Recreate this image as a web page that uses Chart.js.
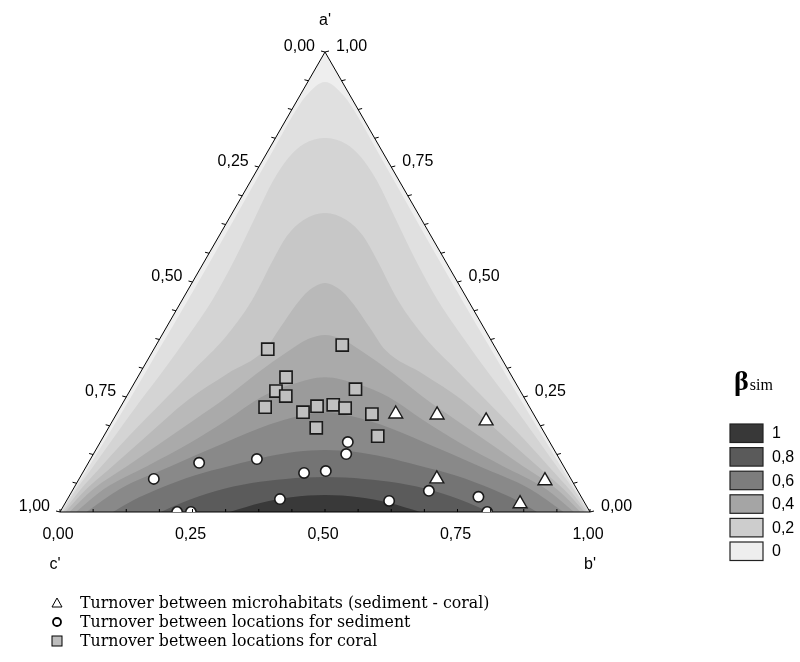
<!DOCTYPE html>
<html>
<head>
<meta charset="utf-8">
<script src="https://cdn.jsdelivr.net/npm/chart.js@4.4.1/dist/chart.umd.min.js"></script>
<style>
html,body{margin:0;padding:0;background:#ffffff;}
#wrap{position:relative;width:800px;height:662px;}
</style>
</head>
<body>
<div id="wrap"><canvas id="c" width="800" height="662"></canvas></div>
<script>
// ---------------- data (ternary coordinates: a' = top, b' = bottom-right, c' = 1 - a' - b') ----------------
const seriesNames = [
  'Turnover between microhabitats (sediment - coral)',
  'Turnover between locations for sediment',
  'Turnover between locations for coral'
];
// microhabitats (triangles)
const microA = [0.213, 0.211, 0.198, 0.072, 0.068, 0.018];
const microB = [0.527, 0.606, 0.705, 0.675, 0.881, 0.859];
// sediment locations (circles)
const sedA = [0.072, 0.107, 0.115, 0.085, 0.089, 0.028, 0.000, 0.000, 0.152, 0.126, 0.024, 0.046, 0.033, 0.000];
const sedB = [0.141, 0.209, 0.314, 0.418, 0.457, 0.401, 0.221, 0.247, 0.467, 0.477, 0.609, 0.673, 0.773, 0.806];
// coral locations (squares)
const coralA = [0.354, 0.363, 0.293, 0.263, 0.252, 0.267, 0.228, 0.217, 0.230, 0.233, 0.226, 0.213, 0.183, 0.165];
const coralB = [0.215, 0.351, 0.280, 0.276, 0.300, 0.424, 0.273, 0.350, 0.370, 0.399, 0.425, 0.482, 0.392, 0.517];

// beta_sim contour lines (levels 0, 0.1 ... 0.9), each as [b', a'] pairs
const contourLevels = [0, 0.1, 0.2, 0.3, 0.4, 0.5, 0.6, 0.7, 0.8, 0.9];
const contour1 = [[0.001,0],[0.003,0.048],[0.005,0.091],[0.007,0.157],[0.009,0.244],[0.010,0.352],[0.011,0.461],[0.011,0.570],[0.010,0.678],[0.009,0.787],[0.008,0.860],[0.012,0.905],[0.0325,0.935],[0.083,0.905],[0.132,0.860],[0.204,0.787],[0.312,0.678],[0.419,0.570],[0.528,0.461],[0.638,0.352],[0.747,0.244],[0.836,0.157],[0.904,0.091],[0.949,0.048],[0.999,0]];
const contour2 = [[0.003,0],[0.006,0.048],[0.012,0.091],[0.020,0.157],[0.031,0.244],[0.040,0.300],[0.050,0.380],[0.057,0.460],[0.055,0.550],[0.048,0.640],[0.042,0.720],[0.046,0.770],[0.060,0.800],[0.0935,0.813],[0.140,0.800],[0.184,0.770],[0.238,0.720],[0.312,0.640],[0.395,0.550],[0.483,0.460],[0.570,0.380],[0.660,0.300],[0.725,0.244],[0.823,0.157],[0.897,0.091],[0.946,0.048],[0.997,0]];
const contour3 = [[0.006,0],[0.014,0.048],[0.026,0.091],[0.045,0.157],[0.075,0.244],[0.098,0.310],[0.122,0.380],[0.132,0.460],[0.128,0.550],[0.128,0.600],[0.142,0.635],[0.175,0.650],[0.223,0.635],[0.272,0.600],[0.322,0.550],[0.408,0.460],[0.498,0.380],[0.592,0.310],[0.681,0.244],[0.798,0.157],[0.883,0.091],[0.938,0.048],[0.994,0]];
const contour4 = [[0.010,0],[0.024,0.048],[0.045,0.091],[0.077,0.157],[0.120,0.244],[0.165,0.300],[0.210,0.352],[0.215,0.400],[0.220,0.450],[0.228,0.480],[0.251,0.498],[0.292,0.480],[0.330,0.450],[0.385,0.400],[0.438,0.352],[0.535,0.300],[0.636,0.244],[0.766,0.157],[0.864,0.091],[0.928,0.048],[0.990,0]];
const contour5 = [[0.018,0],[0.038,0.050],[0.077,0.100],[0.115,0.150],[0.153,0.200],[0.190,0.250],[0.220,0.300],[0.258,0.352],[0.280,0.376],[0.3075,0.385],[0.344,0.376],[0.390,0.352],[0.480,0.300],[0.560,0.250],[0.647,0.200],[0.735,0.150],[0.823,0.100],[0.912,0.050],[0.982,0]];
const contour6 = [[0.030,0],[0.058,0.050],[0.115,0.100],[0.170,0.150],[0.215,0.200],[0.255,0.250],[0.300,0.278],[0.3535,0.293],[0.422,0.278],[0.495,0.250],[0.585,0.200],[0.680,0.150],[0.785,0.100],[0.892,0.050],[0.970,0]];
const contour7 = [[0.050,0],[0.088,0.050],[0.160,0.100],[0.235,0.150],[0.300,0.190],[0.345,0.208],[0.3915,0.217],[0.447,0.208],[0.510,0.190],[0.615,0.150],[0.740,0.100],[0.862,0.050],[0.950,0]];
const contour8 = [[0.100,0],[0.125,0.025],[0.160,0.050],[0.215,0.080],[0.270,0.100],[0.330,0.120],[0.380,0.131],[0.4325,0.135],[0.489,0.131],[0.550,0.120],[0.630,0.100],[0.705,0.080],[0.790,0.050],[0.850,0.025],[0.900,0]];
const contour9 = [[0.190,0],[0.220,0.020],[0.270,0.045],[0.330,0.063],[0.390,0.072],[0.462,0.076],[0.538,0.072],[0.607,0.063],[0.685,0.045],[0.760,0.020],[0.810,0]];
const contour10 = [[0.320,0],[0.370,0.020],[0.420,0.032],[0.4815,0.037],[0.548,0.032],[0.610,0.020],[0.680,0]];

// band fill colours, below level 0 (lightest) to above 0.9 (darkest)
const bandColors = ['#eeeeee','#e0e0e0','#d4d4d4','#c7c7c7','#b9b9b9','#aaaaaa','#9b9b9b','#898989','#747474','#5b5b5b','#393939'];

// colour legend
const legendTitle = 'β';
const legendSub = 'sim';
const legendLabels = ['1','0,8','0,6','0,4','0,2','0'];
const legendColors = ['#383838','#5a5a5a','#7d7d7d','#a5a5a5','#cdcdcd','#eeeeee'];

// axes
const tickValues = [0, 0.25, 0.5, 0.75, 1];
const tickLabels = ['0,00','0,25','0,50','0,75','1,00'];
const minorTicks = [0,0.0625,0.125,0.1875,0.25,0.3125,0.375,0.4375,0.5,0.5625,0.625,0.6875,0.75,0.8125,0.875,0.9375,1];
const axisNames = ["a'", "b'", "c'"];

// ---------------- build ----------------
const toXY = (b, a) => ({x: b + a / 2, y: a});
const contours = [contour1,contour2,contour3,contour4,contour5,contour6,contour7,contour8,contour9,contour10];
const triangle = [toXY(0,0), toXY(0,1), toXY(1,0)];

const datasets = [];
datasets.push({type:'line', data: triangle, fill:'origin', backgroundColor: bandColors[0],
  borderWidth:0, pointRadius:0, tension:0, order:100});
contours.forEach((c, i) => {
  datasets.push({type:'line', label: 'β ' + contourLevels[i], data: c.map(p => toXY(p[0], p[1])), fill:'origin',
    backgroundColor: bandColors[i+1], borderWidth:0, pointRadius:0,
    cubicInterpolationMode:'monotone', order: 99 - i});
});
// white mask outside the triangle
datasets.push({type:'line', data: triangle, fill:'end', backgroundColor:'#ffffff',
  borderWidth:0, pointRadius:0, tension:0, order:20});
// triangle outline
datasets.push({type:'line', data: [toXY(0,0), toXY(0,1), toXY(1,0), toXY(0,0)], fill:false,
  borderColor:'#000000', borderWidth:1, pointRadius:0, tension:0, clip:4, order:10});
// markers
datasets.push({type:'scatter', label: seriesNames[2], data: coralA.map((a,i)=>toXY(coralB[i], a)),
  pointStyle:'rect', pointRadius:8.6, backgroundColor:'#c0c0c0', borderColor:'#1a1a1a', borderWidth:1.6, order:3});
datasets.push({type:'scatter', label: seriesNames[1], data: sedA.map((a,i)=>toXY(sedB[i], a)),
  pointStyle:'circle', pointRadius:5.2, backgroundColor:'#ffffff', borderColor:'#1a1a1a', borderWidth:1.6, order:2});
datasets.push({type:'scatter', label: seriesNames[0], data: microA.map((a,i)=>toXY(microB[i], a)),
  pointStyle:'triangle', pointRadius:8, backgroundColor:'#ffffff', borderColor:'#1a1a1a', borderWidth:1.4, order:1});

const textPlugin = {
  id: 'ternaryText',
  afterDraw(chart) {
    const {ctx} = chart;
    const xs = chart.scales.x, ys = chart.scales.y;
    const P = (b, a) => [xs.getPixelForValue(b + a / 2), ys.getPixelForValue(a)];
    const seg = (x1,y1,x2,y2) => { ctx.beginPath(); ctx.moveTo(x1,y1); ctx.lineTo(x2,y2); ctx.stroke(); };
    ctx.save();
    ctx.strokeStyle = '#000'; ctx.lineWidth = 1;
    minorTicks.forEach(t => {
      let [px, py] = P(0, 1 - t);           // left edge (c')
      seg(px, py, px - 4, py - 1);
      [px, py] = P(1 - t, t);               // right edge (a')
      seg(px, py, px + 4, py - 1);
      [px, py] = P(t, 0);                   // bottom edge (b')
      seg(px, py, px, py - 3);
    });
    ctx.fillStyle = '#000';
    ctx.font = '16px "Liberation Sans", Arial, sans-serif';
    ctx.textBaseline = 'middle';
    tickValues.forEach((t, i) => {
      let [px, py] = P(0, 1 - t);
      ctx.textAlign = 'right'; ctx.fillText(tickLabels[i], px - 10, py - 5);
      [px, py] = P(1 - t, t);
      ctx.textAlign = 'left'; ctx.fillText(tickLabels[i], px + 11, py - 5);
      [px, py] = P(t, 0);
      ctx.textAlign = 'center'; ctx.fillText(tickLabels[i], px - 2, py + 23);
    });
    let [ax, ay] = P(0, 1);
    ctx.textAlign = 'center'; ctx.fillText(axisNames[0], ax, ay - 31);
    let [bx, by] = P(1, 0);
    ctx.fillText(axisNames[1], bx, by + 53);
    let [cx, cy] = P(0, 0);
    ctx.fillText(axisNames[2], cx - 5, cy + 53);

    // beta_sim colour legend
    const lx = chart.chartArea.right + 140;
    ctx.textAlign = 'left'; ctx.textBaseline = 'alphabetic';
    ctx.font = 'bold 28px "Liberation Serif", "Times New Roman", serif';
    ctx.fillText(legendTitle, lx + 4, 390);
    const bw = ctx.measureText(legendTitle).width;
    ctx.font = '16px "Liberation Serif", "Times New Roman", serif';
    ctx.fillText(legendSub, lx + 5 + bw, 390);
    ctx.font = '16px "Liberation Sans", Arial, sans-serif';
    ctx.textBaseline = 'middle';
    legendLabels.forEach((lab, i) => {
      const top = 424 + i * 23.6;
      ctx.fillStyle = legendColors[i];
      ctx.fillRect(lx, top, 33, 18.5);
      ctx.strokeStyle = '#222'; ctx.lineWidth = 1.2;
      ctx.strokeRect(lx, top, 33, 18.5);
      ctx.fillStyle = '#000';
      ctx.fillText(lab, lx + 42, top + 10);
    });

    // marker legend
    const mx = 57, rows = [603, 622, 641];
    ctx.lineWidth = 1; ctx.strokeStyle = '#000';
    ctx.beginPath(); ctx.moveTo(mx, rows[0] - 5); ctx.lineTo(mx + 5, rows[0] + 4); ctx.lineTo(mx - 5, rows[0] + 4); ctx.closePath();
    ctx.fillStyle = '#fff'; ctx.fill(); ctx.stroke();
    ctx.beginPath(); ctx.arc(mx, rows[1], 4, 0, Math.PI * 2); ctx.lineWidth = 1.8; ctx.fill(); ctx.stroke();
    ctx.lineWidth = 1;
    ctx.fillStyle = '#bdbdbd'; ctx.fillRect(mx - 5, rows[2] - 5, 10, 10); ctx.strokeRect(mx - 5, rows[2] - 5, 10, 10);
    ctx.fillStyle = '#000';
    ctx.font = '15.8px "DejaVu Serif", "Liberation Serif", serif';
    ctx.textAlign = 'left';
    seriesNames.forEach((n, i) => ctx.fillText(n, 80, rows[i] + 1));
    ctx.restore();
  }
};

new Chart(document.getElementById('c').getContext('2d'), {
  type: 'scatter',
  data: {datasets},
  options: {
    responsive: false,
    animation: false,
    events: [],
    layout: {padding: {left: 60, right: 210, top: 52, bottom: 150}},
    scales: {
      x: {type:'linear', min:0, max:1, display:false},
      y: {type:'linear', min:0, max:1, display:false}
    },
    plugins: {legend: {display:false}, tooltip: {enabled:false}}
  },
  plugins: [textPlugin]
});
</script>
</body>
</html>
